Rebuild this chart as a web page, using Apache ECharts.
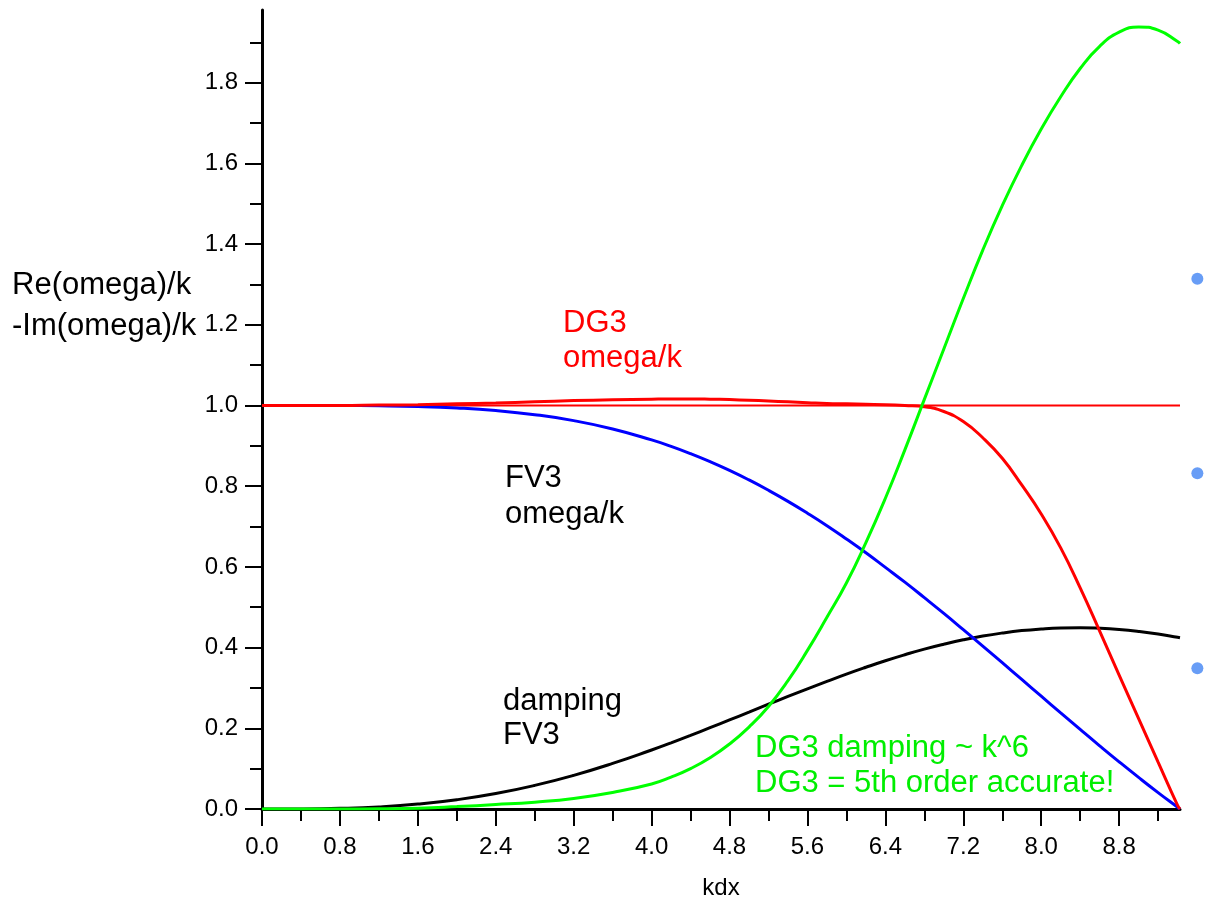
<!DOCTYPE html>
<html>
<head>
<meta charset="utf-8">
<script src="https://cdn.jsdelivr.net/npm/echarts@6/dist/echarts.min.js"></script>
<style>
html,body{margin:0;padding:0;background:#fff;}
#chart{width:1212px;height:901px;}
</style>
</head>
<body>
<div id="chart"></div>
<script>
// ---- data ----
const kdx = [0,0.4,0.8,1.2,1.6,2.0,2.4,2.8,3.2,3.6,4.0,4.2,4.4,4.6,4.8,5.0,5.2,5.4,5.6,5.8,6.0,6.2,6.4,6.6,6.8,7.0,7.2,7.4,7.6,7.8,8.0,8.2,8.4,8.6,8.8,9.0,9.2,9.4,9.4248];
const fv3Omega = [1.0,1.0,0.9998,0.9992,0.9975,0.9938,0.9874,0.9772,0.9624,0.9418,0.9147,0.8986,0.8806,0.8608,0.8391,0.8154,0.7898,0.7624,0.7331,0.7022,0.6693,0.6351,0.5988,0.5621,0.5237,0.4846,0.4444,0.4037,0.3625,0.3210,0.2796,0.2381,0.1971,0.1566,0.1169,0.0782,0.0406,0.0044,0];
const fv3Damping = [0,0.0002,0.0016,0.0052,0.0121,0.0229,0.0383,0.0585,0.0834,0.1129,0.1462,0.1640,0.1824,0.2014,0.2207,0.2401,0.2597,0.2789,0.2978,0.3162,0.3342,0.3512,0.3674,0.3823,0.3962,0.4084,0.4192,0.4285,0.4361,0.4421,0.4461,0.4485,0.4491,0.4478,0.4448,0.4400,0.4336,0.4255,0.4244];
const dg3Omega = [1.0,1.0,1.0,1.001,1.002,1.004,1.006,1.009,1.012,1.014,1.0155,1.016,1.016,1.0155,1.0145,1.013,1.011,1.009,1.007,1.005,1.004,1.003,1.002,1.0,0.997,0.985,0.960,0.920,0.869,0.803,0.731,0.647,0.548,0.441,0.332,0.224,0.116,0.009,0];
const dg3Damping = [0,0,0,0.0005,0.002,0.006,0.011,0.017,0.026,0.041,0.062,0.079,0.100,0.127,0.161,0.203,0.254,0.318,0.393,0.475,0.560,0.660,0.770,0.890,1.015,1.140,1.265,1.385,1.495,1.595,1.685,1.765,1.835,1.890,1.925,1.938,1.930,1.902,1.897];
const exactX = [0, 9.4248];
const exactY = [1, 1];
const dotsX = [9.603, 9.603, 9.603];
const dotsY = [1.314, 0.832, 0.349];

const xMajorTicks = [0,0.8,1.6,2.4,3.2,4.0,4.8,5.6,6.4,7.2,8.0,8.8];
const xMinorTicks = [0.4,1.2,2.0,2.8,3.6,4.4,5.2,6.0,6.8,7.6,8.4,9.2];
const yMajorTicks = [0,0.2,0.4,0.6,0.8,1.0,1.2,1.4,1.6,1.8];
const yMinorTicks = [0.1,0.3,0.5,0.7,0.9,1.1,1.3,1.5,1.7,1.9];

const FONT = '"Liberation Sans", Arial, sans-serif';
const pairs = (xs, ys) => xs.map((x, i) => [x, ys[i]]);

const chart = echarts.init(document.getElementById('chart'));

const axisBase = (min, max) => ({
  type: 'value', min: min, max: max, splitLine: {show: false}
});

function txt(text, x, y, color, size) {
  return {type: 'text', x: x, y: y, silent: true,
    style: {text: text, fill: color, font: size + 'px ' + FONT, textVerticalAlign: 'middle'}};
}

const option = {
  animation: false,
  backgroundColor: '#fff',
  grid: {left: 262, right: 32, top: 10, bottom: 92, containLabel: false, outerBoundsMode: 'none'},
  xAxis: [
    Object.assign(axisBase(0, 9.4248), {
      position: 'bottom',
      axisLine: {show: true, onZero: false, lineStyle: {color: '#000', width: 3}},
      axisTick: {show: true, length: 17, customValues: xMajorTicks, lineStyle: {color: '#000', width: 2}},
      axisLabel: {customValues: xMajorTicks, formatter: v => v.toFixed(1), fontSize: 24, color: '#000', margin: 26, fontFamily: FONT},
      name: 'kdx', nameLocation: 'middle', nameGap: 67,
      nameTextStyle: {fontSize: 24, color: '#000', fontFamily: FONT}
    }),
    Object.assign(axisBase(0, 9.4248), {
      position: 'bottom',
      axisLine: {show: false, onZero: false},
      axisTick: {show: true, length: 12, customValues: xMinorTicks, lineStyle: {color: '#000', width: 2}},
      axisLabel: {show: false}
    })
  ],
  yAxis: [
    Object.assign(axisBase(0, 1.98), {
      position: 'left',
      axisLine: {show: true, onZero: false, lineStyle: {color: '#000', width: 3}},
      axisTick: {show: true, length: 17, customValues: yMajorTicks, lineStyle: {color: '#000', width: 2}},
      axisLabel: {customValues: yMajorTicks, formatter: v => v.toFixed(1), fontSize: 24, color: '#000', margin: 24, fontFamily: FONT}
    }),
    Object.assign(axisBase(0, 1.98), {
      position: 'left',
      axisLine: {show: false, onZero: false},
      axisTick: {show: true, length: 12, customValues: yMinorTicks, lineStyle: {color: '#000', width: 2}},
      axisLabel: {show: false}
    })
  ],
  series: [
    {name: 'exact', type: 'line', data: pairs(exactX, exactY), showSymbol: false,
      lineStyle: {color: '#ff0000', width: 2}, z: 2},
    {name: 'FV3 damping', type: 'line', data: pairs(kdx, fv3Damping), showSymbol: false, smooth: true,
      lineStyle: {color: '#000000', width: 3}, z: 3},
    {name: 'FV3 omega/k', type: 'line', data: pairs(kdx, fv3Omega), showSymbol: false, smooth: true,
      lineStyle: {color: '#0000ff', width: 3}, z: 4},
    {name: 'DG3 omega/k', type: 'line', data: pairs(kdx, dg3Omega), showSymbol: false, smooth: true,
      lineStyle: {color: '#ff0000', width: 3}, z: 5},
    {name: 'DG3 damping', type: 'line', data: pairs(kdx, dg3Damping), showSymbol: false, smooth: true,
      lineStyle: {color: '#00ff00', width: 3}, z: 6},
    {name: 'dots', type: 'scatter', data: pairs(dotsX, dotsY), clip: false, symbolSize: 12,
      itemStyle: {color: '#4285f4'}, z: 7}
  ],
  graphic: [
    txt('Re(omega)/k', 12, 285, '#000', 31),
    txt('-Im(omega)/k', 12, 326, '#000', 31),
    txt('DG3', 563, 323, '#ff0000', 31),
    txt('omega/k', 563, 358, '#ff0000', 31),
    txt('FV3', 505, 478, '#000', 31),
    txt('omega/k', 505, 514, '#000', 31),
    txt('damping', 503, 701, '#000', 31),
    txt('FV3', 503, 735, '#000', 31),
    txt('DG3 damping ~ k^6', 755, 748, '#00ee00', 31),
    txt('DG3 = 5th order accurate!', 755, 783, '#00ee00', 31)
  ]
};
chart.setOption(option);
</script>
</body>
</html>
